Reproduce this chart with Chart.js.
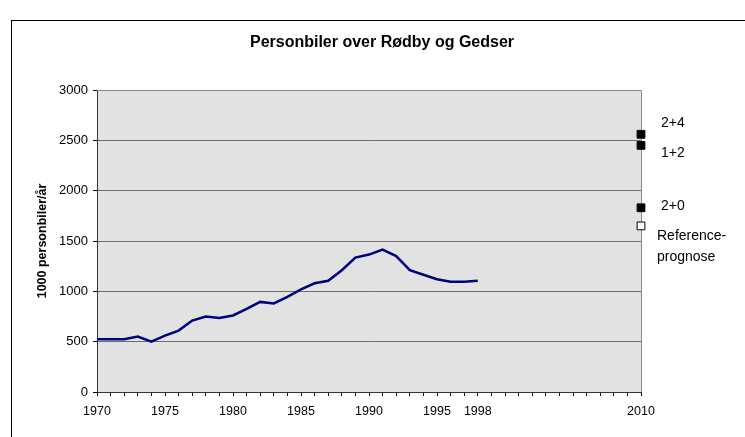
<!DOCTYPE html>
<html>
<head>
<meta charset="utf-8">
<script src="https://cdn.jsdelivr.net/npm/chart.js@4"></script>
<style>
  body { margin: 0; background: #fff; }
  #wrap { width: 745px; height: 437px; }
</style>
</head>
<body>
<div id="wrap"><canvas id="chart" width="745" height="437"></canvas></div>
<script>
// data
const years = [1970, 1971, 1972, 1973, 1974, 1975, 1976, 1977, 1978, 1979,
    1980, 1981, 1982, 1983, 1984, 1985, 1986, 1987, 1988, 1989,
    1990, 1991, 1992, 1993, 1994, 1995, 1996, 1997, 1998];
const cars = [525, 525, 525, 550, 500, 560, 610, 710, 750, 735,
    760, 825, 895, 880, 945, 1020, 1080, 1105, 1210, 1335,
    1365, 1415, 1350, 1210, 1165, 1120, 1095, 1095, 1105];
const scenarioYear = 2010;
const scenarioNames = ['2+4', '1+2', '2+0', 'Reference-\nprognose'];
const scenarioValues = [2560, 2450, 1830, 1650];
const xTickLabels = [1970, 1975, 1980, 1985, 1990, 1995, 1998, 2010];
const yTicks = [0, 500, 1000, 1500, 2000, 2500, 3000];

// label placement next to the scenario markers (dx, dy in px)
const labelOffsets = [[20, -11], [20, 8], [20, -2], [16, 10]];

const framePlugin = {
    id: 'frame',
    beforeDraw(chart) {
        const ctx = chart.ctx;
        const a = chart.chartArea;
        ctx.save();
        ctx.strokeStyle = '#000';
        ctx.lineWidth = 1;
        ctx.strokeRect(11.5, 20.5, 900, 600);
        ctx.fillStyle = '#e2e2e2';
        ctx.fillRect(a.left, a.top, a.right - a.left, a.bottom - a.top);
        ctx.restore();
    },
    beforeDatasetsDraw(chart) {
        const ctx = chart.ctx;
        const a = chart.chartArea;
        ctx.save();
        ctx.strokeStyle = '#8a8a8a';
        ctx.lineWidth = 1;
        ctx.beginPath();
        ctx.moveTo(a.left, a.top + 0.5);
        ctx.lineTo(a.right + 0.5, a.top + 0.5);
        ctx.lineTo(a.right + 0.5, a.bottom);
        ctx.stroke();
        ctx.restore();
    },
    afterDraw(chart) {
        const ctx = chart.ctx;
        ctx.save();
        ctx.fillStyle = '#000';
        ctx.font = 'bold 16px "Liberation Sans", Arial, sans-serif';
        ctx.textAlign = 'center';
        ctx.textBaseline = 'middle';
        ctx.fillText('Personbiler over Rødby og Gedser', 382, 43);

        // scenario labels
        const meta = chart.getDatasetMeta(1);
        ctx.font = '14px "Liberation Sans", Arial, sans-serif';
        ctx.textAlign = 'left';
        meta.data.forEach((pt, i) => {
            const lines = scenarioNames[i].split('\n');
            const [dx, dy] = labelOffsets[i];
            lines.forEach((ln, j) => {
                ctx.fillText(ln, pt.x + dx, pt.y + dy + j * 21);
            });
        });
        ctx.restore();
    }
};

const ctx = document.getElementById('chart').getContext('2d');
new Chart(ctx, {
    type: 'line',
    data: {
        datasets: [{
            label: 'Personbiler',
            data: years.map((y, i) => ({ x: y, y: cars[i] })),
            borderColor: '#000080',
            borderWidth: 2.5,
            pointRadius: 0,
            tension: 0,
            fill: false
        }, {
            label: 'Scenarier',
            data: scenarioValues.map(v => ({ x: scenarioYear, y: v })),
            showLine: false,
            pointStyle: 'rect',
            pointRadius: 5.5,
            pointBorderWidth: 1,
            pointBorderColor: '#000',
            pointBackgroundColor: ['#000', '#000', '#000', '#fff'],
            clip: false
        }]
    },
    options: {
        responsive: false,
        animation: false,
        layout: { padding: { top: 90, right: 104, left: 0, bottom: 0 } },
        plugins: {
            legend: { display: false },
            tooltip: { enabled: false }
        },
        scales: {
            x: {
                type: 'linear',
                min: 1970,
                max: 2010,
                afterBuildTicks(scale) {
                    const t = [];
                    for (let v = 1970; v <= 2010; v++) t.push({ value: v });
                    scale.ticks = t;
                },
                afterFit(scale) { scale.height = 45; },
                ticks: {
                    autoSkip: false,
                    maxRotation: 0,
                    padding: 8,
                    color: '#000',
                    font: { family: '"Liberation Sans", Arial, sans-serif', size: 12.5 },
                    callback: v => xTickLabels.includes(v) ? String(v) : ''
                },
                grid: {
                    drawOnChartArea: false,
                    tickLength: 4,
                    color: '#000'
                },
                border: { color: '#333', width: 1 }
            },
            y: {
                min: 0,
                max: 3000,
                afterBuildTicks(scale) {
                    scale.ticks = yTicks.map(v => ({ value: v }));
                },
                afterFit(scale) { scale.width = 97; },
                ticks: {
                    padding: 5,
                    color: '#000',
                    font: { family: '"Liberation Sans", Arial, sans-serif', size: 13 },
                    callback: v => String(v)
                },
                grid: {
                    color: '#6e6e6e',
                    lineWidth: 1,
                    tickLength: 4,
                    tickColor: '#000'
                },
                border: { color: '#333', width: 1 },
                title: {
                    display: true,
                    text: '1000 personbiler/år',
                    color: '#000',
                    padding: { top: 35, bottom: 0 },
                    font: { family: '"Liberation Sans", Arial, sans-serif', size: 12.5, weight: 'bold' }
                }
            }
        }
    },
    plugins: [framePlugin]
});
</script>
</body>
</html>
